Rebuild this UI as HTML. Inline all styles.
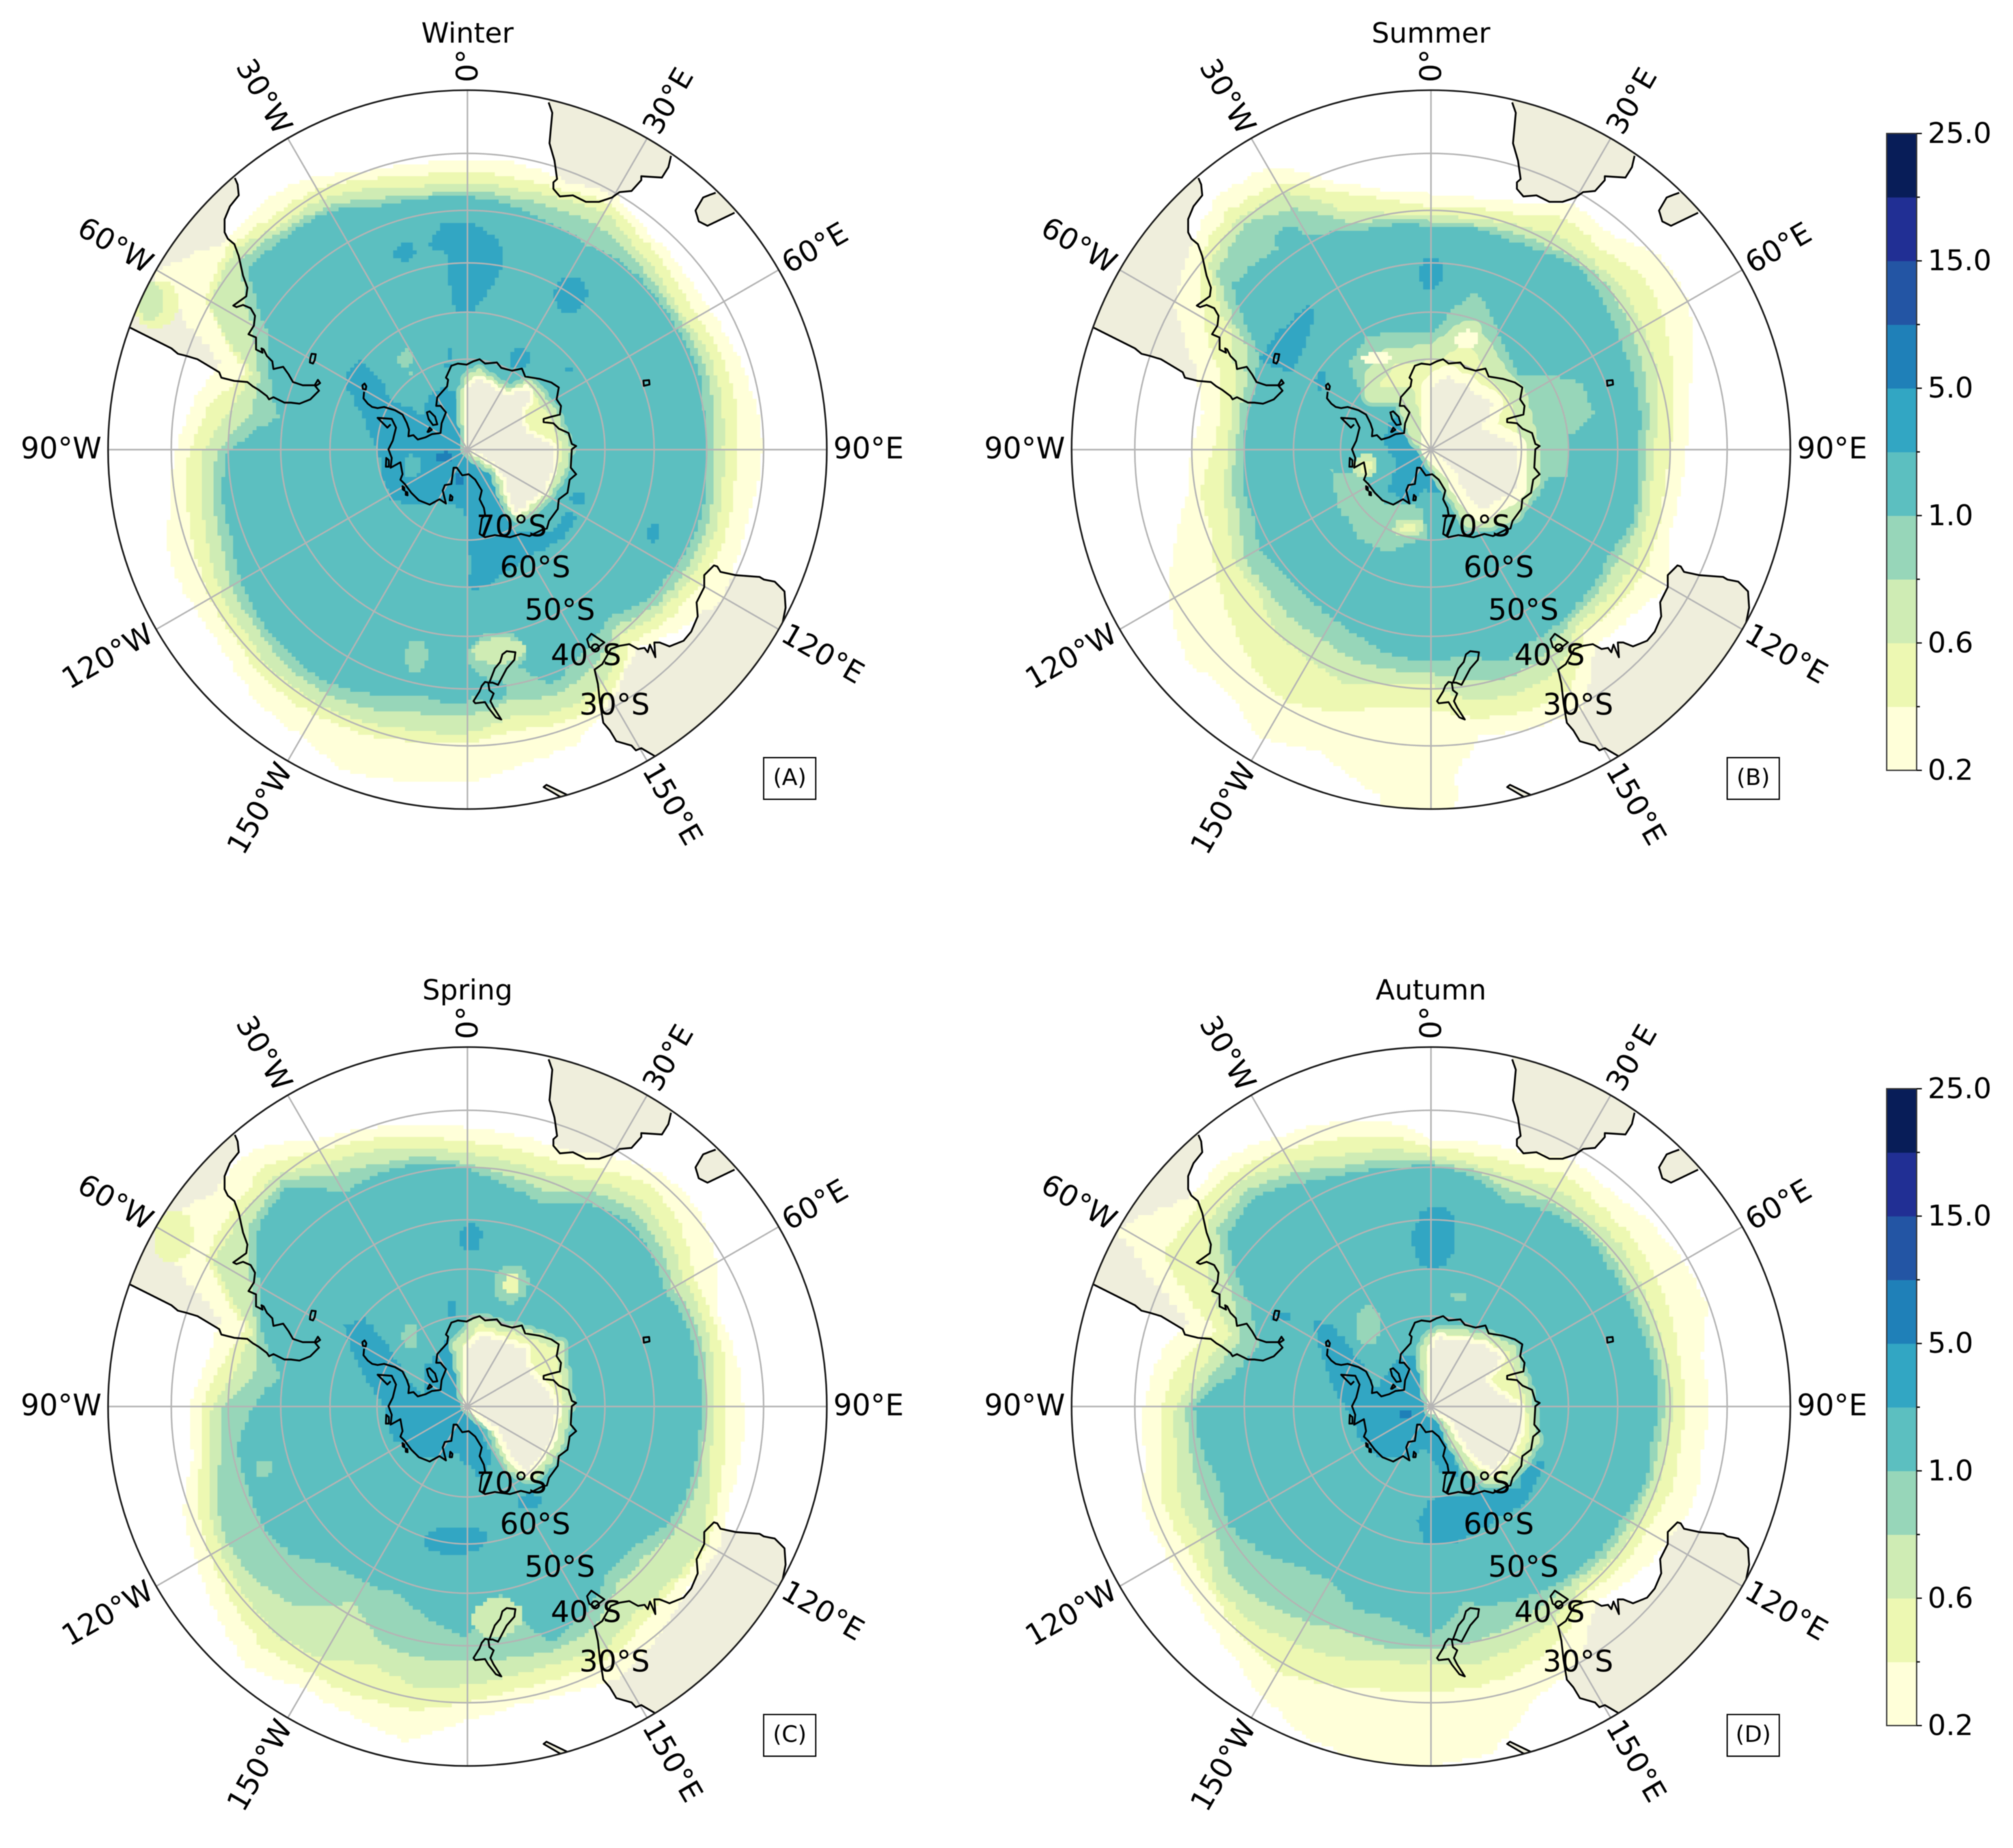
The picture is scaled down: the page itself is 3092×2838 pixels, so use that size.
<!DOCTYPE html>
<html lang="en">
<head>
<meta charset="utf-8">
<title>Seasonal Southern Hemisphere maps</title>
<style>
html,body{margin:0;padding:0;background:#fff;width:3092px;height:2838px;overflow:hidden}
svg{display:block;filter:blur(0.7px)}
text{font-family:"DejaVu Sans","Liberation Sans",sans-serif;fill:#000}
</style>
</head>
<body>
<svg id="figure" xmlns="http://www.w3.org/2000/svg" width="3092" height="2838" viewBox="0 0 3092 2838">
<rect x="0" y="0" width="3092" height="2838" fill="#ffffff"/>
</svg>
<script>
/* Level colours, lowest band to highest band */
const bandColors = ['#ffffd9','#edf8b2','#cfecb4','#97d6b9','#5cbfc0','#32a6c3','#1f80b8','#2355a4','#212f94','#081d58'];
const colorbarLabels = ['0.2','','0.6','','1.0','','5.0','','15.0','','25.0'];
const gridLats = [30,40,50,60,70];
const gridLons = [0,30,60,90,120,150,180,210,240,270,300,330];
const lonLabels = ['0°','30°E','60°E','90°E','120°E','150°E',null,'150°W','120°W','90°W','60°W','30°W'];

/* Latitude (°S) of each band's outer edge, sampled every 10° longitude from 0° eastward */
const winterPale   = [31,31,32,30.5,32.5,33,33,32,31,30,31,31,30,32.7,36,31,27,26,24,23.5,22.5,24.5,25,27,27,26.5,29,30.7,33,36,20,26,25.5,27,30,31];
const winterYellow = [33,33.5,33.5,32,34,35,35.5,34.5,34,34.5,34.5,34,34.5,35.5,37.5,31.5,31,32,30.5,30,29,28.5,28.5,29.5,30,31,32,33,36,41,29,27,28.5,29,31.5,33];
const winterGreen  = [35,35.5,35,34,36,37,37.5,36.5,36.5,37,36.5,36,36.5,37.5,39.5,34,33,34.5,32,32,31,30.5,30.5,31.5,32,33.5,34.5,35.5,40,42,30,28,30.5,31,33,35];
const winterMint   = [36.5,37,37,36.7,37.5,38.5,38.5,38,38,38.5,38,37.5,38,39,41.5,37.6,36,37,35,35,33.5,32.5,32.5,33.5,34,36,36.5,38,44,43.5,38.5,30,31.5,32.5,35,36.5];
const winterTeal   = [37.5,38.5,40,40.5,39.5,39.5,39.7,39,40,40,39.5,39,40,40.7,43.5,41,38,46,37,38,36,34.5,34.5,35,36,38,38,40,49,45.5,42,31.5,32.5,33.5,36.5,37];

const summerPale   = [37,37,36,32,33,29.5,30,33,36,37,37.5,37.5,34,36,37,29,30,31,20,22,26,24,27,26,29,34,38.5,40,41.5,38,30,27,24,25,32,36];
const summerYellow = [39.5,39,38,35,36,34,35,37,38.5,40,40.5,39.5,38.5,39,40,33,33,34,36.5,36,33,31,33,36,38.5,41,41,44,45,43,36,29,27,28,34,37.5];
const summerGreen  = [41,41,40,38.5,38.5,38,39,40,41.5,43,43,42,41,41.5,42,37,36.5,37,41,40,38.5,39.5,40,43,42.5,44.5,45.5,47,47,46,42,31,29,30,37.5,40];
const summerMint   = [42,42,41.5,41,40,40,41.5,42.5,43.5,44.5,44.5,43.5,44,43.5,43.5,41,39.5,41,43,43,43,44,44,44.7,44.5,47,47,48.5,48.5,48,45,33,30.5,33,40,41];
const summerTeal   = [43,42.5,43,42.3,41,42.5,44,44.5,45,46,45.5,44.5,46,45,44.5,44,43,45.5,45.5,45.5,47.5,48.5,49,49,48,49.5,49,50,50,50,48,36.5,37,38.5,41.5,42];

const springPale   = [33,33.5,34,31.5,29,29,31.5,35,34,33.5,33,33,31,31.5,29.5,27.5,28.5,29,27,23,24.7,25.5,23,25.3,27.5,29,33,33,35.5,36,20,24,23.5,28,30,32];
const springYellow = [35.5,36,36.5,34,31.5,33,36,36.5,36,36.5,36,35,33,33.5,33,31,31.5,31.5,30,28,28,28,27,28.5,30,31.5,34.5,35,38,41,29,28,27,30,32,34];
const springGreen  = [37.5,38.5,39,36.5,34.5,36,38,38,38,38.5,38.5,37,34,34.5,35,33,34,34,33,32,34,31,30,31,32,33.5,36,37,41,42,30.5,30,29,32.5,34,36];
const springMint   = [39.5,41,42,38.5,37,38,40.5,39.5,39.5,40,40,39,39,41,41,37,36.5,37,37,37,38,42.5,36,34,33.5,35,38,39,45,43,38,32,30.5,35,36.5,37.5];
const springTeal   = [40.5,43,44.5,41,39,40,42,41,41,41,41,40.5,41,44,44,40,38,49,41.5,44.5,47.5,47,46,42,40.5,41,41,44.5,49.5,44,40,33.5,32,38.5,38,38.5];

const autumnPale   = [35,35,34.5,32,33,32,31,30.5,33.5,33,33.5,32.7,34,35,37,30,27.5,21,20,20,21,24,27,28.5,29,28.5,31,31.5,33,37,20,25.7,25.5,27.5,29,31];
const autumnYellow = [36.5,37,37,35,36,36,36.5,37,37.5,37.5,37.5,37,38,38,39,35,33,32,32,31.5,30,28.5,30,32,32.5,32,34,34.5,37,42,28,28,28,30,32,33.5];
const autumnGreen  = [38,39,39.5,38,38.5,38.5,39.5,40,40,39.5,40,39.5,40,40,41,38.5,37,36,37,36.5,35,34,33,33,35.5,35,36.5,37,41,45,37,31,30,32.5,35,36];
const autumnMint   = [39,40,42,40.5,40.5,41,41.5,41.5,41,41,41.5,41,41.5,41.5,42.5,42,41,40,39.5,39,40,38.5,37,36,38.5,39,39,39,44,47,42,33,32,34.5,37,38];
const autumnTeal   = [39.7,41,44,42.5,41.5,42.5,43,43,42.5,42,43,42,43,43,43.5,44.5,45.5,47.5,41.5,44.5,44.5,47.5,46,43,41,43,41,40.5,47.5,51,46,35,33.5,36.5,38.5,39.5];

/* Closed regions as [longitude, latitude °S] vertices */
const winterDeep = [[302,58.5],[309.6,59],[309,61.5],[308.7,66.3],[303,69.3],[305,73.4],[307,77.3],[323,75.5],[337.5,74.7],[348,77.3],[354,82.7],[0,89.5],[121,87.5],[130,83.5],[143,78.3],[149,73.5],[150,69],[138,65.5],[132,64],[122,64.5],[122,61.8],[132.4,61.3],[143.6,62.5],[164,61.5],[169,60.3],[177.6,59.2],[180,61],[178,64.5],[180,68.7],[179,72.5],[183,76.3],[194,77.7],[205.7,77.4],[214.6,75.4],[227,72.3],[237,70],[252,70.3],[269,70.3],[275.5,69],[287.6,66],[297.7,60.5]];
const winterTopDeep = [[349,46],[354,42],[0,42],[7,44.5],[10.4,47],[10.5,51],[8,55],[2.6,60],[355,60],[354,53.5],[354,48]];
const winterIce = [[356,77.6],[2,74],[9,72.6],[15.4,74],[27,74.6],[36,74.3],[43,70],[56,70.3],[68,69.3],[80.6,69],[90,68],[96,68.2],[110,69.4],[124.5,70],[141,71.5],[143,73.4],[137,78.4],[123,82.3],[0,90]];
const winterCore = [[0,80],[1,76],[9.7,74],[24,75.3],[37.7,75],[43.8,71],[51.6,72.5],[56.6,76],[75,76.5],[83,73.5],[88,70.7],[101,70.5],[119,70.5],[142.6,72.5],[138,76],[126,79.6],[117,83],[105,86.7],[0,90]];

const summerHole = [[321.4,63.5],[330,61.5],[344.4,63],[2,64],[8.4,59],[15,54.8],[22.5,57],[31.3,61.3],[50,65],[58,59.7],[65.6,54.6],[78,54],[85,59.7],[101,59.3],[103,63.6],[114,64],[133,66.3],[151,70.7],[149,79],[135,89],[310,82],[335,78],[320,73],[311,69.3],[316,64]];
const summerPatch = [[258,67.5],[249,73.5],[222,74],[189,77],[182.5,70.5],[203,65.5],[218,65],[240,66.3]];
const summerDeepPole = [[326.5,77.8],[340,80.6],[342,87],[137,87],[152,80.5],[168,79.6],[189,81],[200,77],[229,77],[245,82],[278,79.6],[298,79]];
const summerDeepWest = [[297.7,48.5],[305.7,48.5],[319,49],[320,51.5],[309,55],[299,55.5]];
const summerIce = [[321,69],[337,67.5],[2.4,68.5],[11.3,65],[17.3,62],[30,66],[46,68],[59,67.5],[90,68],[106,66.5],[129,67.5],[149,71.5],[147,79],[135,89],[328,82],[336,76.5],[321.6,74.5],[312,72]];
const summerCore = [[0,76.3],[11.4,73.4],[54,73],[68,77.6],[89,70.7],[113.6,69],[140,72],[140,76.7],[127.7,84.4],[0,90]];

const springDeep = [[303,58],[310,60],[307.6,67.5],[294,75],[284,80],[311.5,77],[343,74.3],[356,77.5],[0,90],[153,83],[155,76.3],[169,74],[191,79],[221,75],[246,72],[274,71],[292,64]];
const springIce = [[351,81],[351,76],[5.6,71],[37,69.4],[57,65.7],[90,68],[110,68],[136.6,68.3],[144,73.6],[123,83],[0,90]];
const springCore = [[0,77.5],[11,74],[44.7,72.3],[63,74.6],[77,72.5],[90,70.3],[112,70],[137,70],[138,75.5],[125,81.3],[100,88],[0,90]];

const autumnDeep = [[306,58],[309,62.3],[304,69.5],[287.6,77.3],[308,77.7],[331,76.3],[344,79],[347,86],[0,90],[153,81.5],[158,73],[172,75.3],[189,81],[201,77.7],[223.5,74.3],[244,72.7],[266,72],[280,68.2],[295.6,63.7]];
const autumnDeepSouth = [[187,64.7],[181,69.7],[151,68.2],[131.7,63.7],[123,65.6],[114,62],[123.5,61.5],[138,60.4],[156.5,61],[169,60],[181.6,60]];
const autumnIce = [[352,77.5],[359,75],[7,73.7],[36,70.4],[54,68.4],[86.6,68.3],[108,66],[132,66.3],[142,69.3],[147.5,75],[128,86],[0,90]];
const autumnCore = [[0,77.5],[6,74.7],[40,72],[56,71],[65,76.6],[83.5,73.6],[90,70],[111,69.3],[136,69.8],[139,76],[120,85],[0,90]];

/* Small patches: longitude, latitude °S, east-west extent, north-south extent, band index */
const winterPatches = [[295,22.5,33,38,1],[295,21.5,18,30,2],[342.4,46,16,14,5],[33.7,50,25,28,5],[29.6,67,16,16,5],[114,63.5,12,8,5],[114,46.5,9,15,5],[349,68.5,4,10,5],[346,71,6,5,5],[52,62,6,4,5],[326,65.7,11,14,3],[323.7,69,4,5,3],[172,46,45,35,3],[194,45,18,25,3],[171,46.7,40,20,2],[174.7,39.5,25,18,4],[253,77,13,18,4],[251.6,84.6,11,9,6],[197,83,7,8,6]];
const summerPatches = [[182,22,60,50,0],[0,52,19,24,5],[326,37.5,25,20,4],[302,61.5,8,14,5],[256,75,18,18,2],[196,72,24,14,2],[256,75,10,10,1],[196,72,12,7,1]];
const summerIcePatches = [[18,64.5,18,14,0],[329,66.5,22,10,0]];
const springPatches = [[300,23,30,40,1],[1.3,53.5,16,22,5],[185,60.7,50,22,5],[147,65,20,12,5],[351,68,8,14,5],[321,70,12,20,3],[19.7,61.5,26,30,3],[19.7,61.5,12,15,1],[253,45,14,14,3],[172,45,38,30,2]];
const autumnPatches = [[1,53.5,33,49,5],[301,52.5,16,8,5],[322,67.5,20,30,3],[14.5,65,12,7,3],[254,84,9,7,6]];

/* Basemap geometry in stereographic map units (three units per pixel), each feature with its own origin */
const antarcticaOrigin = [-654,-631.5];
const antarcticaCoast = [[178,365],[175,395],[195,420],[215,435],[240,440],[270,435],[320,450],[355,470],[375,510],[385,540],[382,570],[405,565],[425,585],[460,575],[490,560],[530,555],[535,510],[555,460],[530,430],[510,430],[515,390],[560,340],[565,310],[555,300],[580,245],[610,235],[650,240],[680,225],[710,215],[735,235],[790,230],[810,255],[860,268],[905,258],[920,295],[985,305],[1040,322],[1075,345],[1065,400],[1085,430],[1080,470],[1040,480],[1005,490],[1005,505],[1050,510],[1075,535],[1120,555],[1135,605],[1155,615],[1135,630],[1130,715],[1155,745],[1125,770],[1115,830],[1075,860],[1070,905],[1030,960],[1020,995],[1000,1000],[940,1030],[900,1020],[850,1035],[780,1025],[735,1035],[710,1020],[720,950],[735,930],[730,900],[710,860],[720,820],[690,770],[660,745],[630,750],[605,715],[590,715],[580,790],[550,795],[540,820],[555,880],[525,860],[480,885],[430,865],[395,830],[365,790],[345,770],[355,745],[345,690],[300,715],[305,670],[290,630],[310,590],[325,530],[305,490],[240,485],[265,510],[285,530],[300,515]];
const antarcticaIslands = [[[170,335],[180,327],[188,340],[185,355],[172,352]],[[467,460],[480,455],[505,480],[515,515],[495,518],[475,490]],[[470,550],[480,530],[490,540],[475,550]],[[280,670],[292,680],[292,710],[278,710]],[[355,800],[362,805],[364,820],[356,815]],[[370,825],[377,828],[378,842],[370,840]],[[575,840],[585,850],[583,865],[572,865]]];
const southAmericaOrigin = [-1584,-1291.5];
const southAmericaCoast = [[512,40],[525,70],[530,120],[490,170],[465,230],[465,290],[480,320],[510,345],[530,400],[550,490],[570,545],[565,585],[530,610],[505,628],[520,635],[550,625],[585,640],[605,675],[600,720],[575,760],[610,775],[610,830],[640,845],[635,825],[645,830],[660,860],[685,885],[690,920],[735,910],[760,945],[780,980],[825,995],[890,995],[905,985],[895,970],[880,995],[900,1020],[860,1060],[810,1080],[770,1075],[740,1075],[690,1050],[670,1060],[660,1045],[620,1015],[595,1000],[570,980],[510,975],[450,960],[440,935],[340,875],[290,860],[250,850],[220,825],[30,730]];
const southAmericaMargin = [[-200,500],[300,-100]];
const southGeorgiaIsland = [[860,870],[866,850],[885,852],[880,880],[872,895],[858,890]];
const africaOrigin = [306,-1651.5];
const africaCoast = [[68,52],[85,100],[72,240],[95,320],[107,405],[90,420],[90,450],[120,485],[180,480],[240,510],[300,510],[360,490],[395,465],[450,460],[495,410],[495,392],[590,398],[620,350],[632,298]];
const africaMargin = [[700,200],[100,-100]];
const madagascarCoast = [[838,468],[810,478],[780,490],[745,550],[760,600],[800,620],[925,560]];
const madagascarMargin = [[960,480]];
const australiaOrigin = [486,478.5];
const australiaCoast = [[380,935],[315,897],[290,907],[270,885],[200,865],[170,815],[140,780],[125,690],[115,600],[100,535],[135,510],[175,440],[215,425],[260,418],[300,440],[330,435],[345,455],[355,420],[380,478],[375,410],[400,410],[445,428],[510,402],[545,360],[575,290],[570,225],[605,155],[605,100],[650,55],[665,60],[680,85],[750,100],[860,108],[880,120],[930,130],[975,175],[980,250],[965,325]];
const australiaMargin = [[1100,500],[800,1100]];
const tasmaniaCoast = [[65,395],[85,370],[145,410],[100,445],[75,430]];
const newZealandOrigin = [-54,838.5];
const newZealandNorth = [[215,105],[235,90],[275,95],[270,130],[235,170],[195,245],[170,235],[155,235],[180,170],[205,140]];
const newZealandSouth = [[135,232],[150,235],[155,270],[175,285],[160,320],[175,350],[210,405],[185,395],[150,350],[135,325],[90,330],[82,320],[110,275],[120,250]];
const subantarcticIsland = [[405,716],[418,706],[514,752],[506,764],[480,760]];
const kerguelenOrigin = [825,-306];
const kerguelenIsland = [[-14,-12],[12,-14],[14,6],[-12,12]];

const svg = document.getElementById('figure');
const NS = 'http://www.w3.org/2000/svg';
const radius = 552;
const projectionScale = 788;
const stepSize = 6;
const landColor = '#efeedc';
const gridColor = '#b4b4b4';

function node(tag, parent){
  const e = document.createElementNS(NS, tag);
  parent.appendChild(e);
  return e;
}
function radiusOfLat(lat){ return projectionScale * Math.tan((90 - lat) / 2 * Math.PI / 180); }
function mapX(lon, lat){ return radiusOfLat(lat) * Math.sin(lon * Math.PI / 180); }
function mapY(lon, lat){ return -radiusOfLat(lat) * Math.cos(lon * Math.PI / 180); }
function unitX(v, origin){ return (v + origin[0]) / 3; }
function unitY(v, origin){ return (v + origin[1]) / 3; }
function steppedPath(points){
  let d = '';
  let px = null, py = null;
  points.forEach(function(p){
    const x = Math.round(p[0] / stepSize) * stepSize;
    const y = Math.round(p[1] / stepSize) * stepSize;
    if (px === null) { d += 'M' + x + ' ' + y; }
    else if (x !== px || y !== py) {
      if (x !== px && y !== py) d += 'L' + x + ' ' + py;
      d += 'L' + x + ' ' + y;
    }
    px = x; py = y;
  });
  return d + 'Z';
}
function contourPoints(lats){
  const pts = [];
  for (let deg = 0; deg < 360; deg++) {
    const i = Math.floor(deg / 10);
    const t = (deg % 10) / 10;
    const lat = lats[i] + (lats[(i + 1) % lats.length] - lats[i]) * t;
    pts.push([mapX(deg, lat), mapY(deg, lat)]);
  }
  return pts;
}
function regionPoints(vertices){
  const pts = [];
  vertices.forEach(function(v, i){
    const w = vertices[(i + 1) % vertices.length];
    const ax = mapX(v[0], v[1]), ay = mapY(v[0], v[1]);
    const bx = mapX(w[0], w[1]), by = mapY(w[0], w[1]);
    for (let k = 0; k < 10; k++) pts.push([ax + (bx - ax) * k / 10, ay + (by - ay) * k / 10]);
  });
  return pts;
}
function patchPoints(patch){
  const cx = mapX(patch[0], patch[1]), cy = mapY(patch[0], patch[1]);
  const pts = [];
  for (let a = 0; a < 360; a += 10) {
    pts.push([cx + patch[2] * Math.cos(a * Math.PI / 180), cy + patch[3] * Math.sin(a * Math.PI / 180)]);
  }
  return pts;
}
function unitPath(points, origin, closed){
  let d = '';
  points.forEach(function(p, i){
    d += (i ? 'L' : 'M') + unitX(p[0], origin).toFixed(1) + ' ' + unitY(p[1], origin).toFixed(1);
  });
  return d + (closed ? 'Z' : '');
}

const panelLayout = [
  {season:'Winter', tag:'(A)', x:718, y:690.5, bands:[winterPale,winterYellow,winterGreen,winterMint,winterTeal], regions:[[winterDeep,5],[winterTopDeep,5]], patches:winterPatches, ice:winterIce, core:winterCore, icePatches:[], rim:10, mintStroke:22, greenStroke:10},
  {season:'Summer', tag:'(B)', x:2198, y:690.5, bands:[summerPale,summerYellow,summerGreen,summerMint,summerTeal], regions:[[summerHole,3],[summerPatch,3],[summerDeepPole,5],[summerDeepWest,5]], patches:summerPatches, ice:summerIce, core:summerCore, icePatches:summerIcePatches, rim:30, mintStroke:36, greenStroke:24},
  {season:'Spring', tag:'(C)', x:718, y:2160, bands:[springPale,springYellow,springGreen,springMint,springTeal], regions:[[springDeep,5]], patches:springPatches, ice:springIce, core:springCore, icePatches:[], rim:14, mintStroke:22, greenStroke:10},
  {season:'Autumn', tag:'(D)', x:2198, y:2160, bands:[autumnPale,autumnYellow,autumnGreen,autumnMint,autumnTeal], regions:[[autumnDeep,5],[autumnDeepSouth,5]], patches:autumnPatches, ice:autumnIce, core:autumnCore, icePatches:[], rim:12, mintStroke:22, greenStroke:10}
];

const defs = node('defs', svg);
const clip = node('clipPath', defs);
clip.setAttribute('id', 'disc');
const clipCircle = node('circle', clip);
clipCircle.setAttribute('r', radius);

const landFeatures = [
  [southAmericaCoast.concat(southAmericaMargin), southAmericaOrigin],
  [africaCoast.concat(africaMargin), africaOrigin],
  [madagascarCoast.concat(madagascarMargin), africaOrigin],
  [australiaCoast.concat(australiaMargin), australiaOrigin],
  [tasmaniaCoast, australiaOrigin],
  [newZealandNorth, newZealandOrigin],
  [newZealandSouth, newZealandOrigin],
  [subantarcticIsland, newZealandOrigin]
];
const coastLines = [
  [antarcticaCoast, antarcticaOrigin, false],
  [southAmericaCoast, southAmericaOrigin, false],
  [southGeorgiaIsland, southAmericaOrigin, true],
  [africaCoast, africaOrigin, false],
  [madagascarCoast, africaOrigin, false],
  [australiaCoast, australiaOrigin, false],
  [tasmaniaCoast, australiaOrigin, true],
  [newZealandNorth, newZealandOrigin, true],
  [newZealandSouth, newZealandOrigin, true],
  [subantarcticIsland, newZealandOrigin, true],
  [kerguelenIsland, kerguelenOrigin, true]
].concat(antarcticaIslands.map(function(isle){ return [isle, antarcticaOrigin, true]; }));

function fillPath(parent, d, color){
  const p = node('path', parent);
  p.setAttribute('d', d);
  p.setAttribute('fill', color);
  return p;
}

panelLayout.forEach(function(panel){
  const key = panel.season.toLowerCase();
  const g = node('g', svg);
  
  
  g.setAttribute('transform', 'translate(' + panel.x + ' ' + panel.y + ')');

  const map = node('g', g);
  
  
  map.setAttribute('clip-path', 'url(#disc)');

  const land = node('g', map);
  
  
  landFeatures.forEach(function(f){
    const p = fillPath(land, unitPath(f[0], f[1], true), landColor);
    
    
  });

  const field = node('g', map);
  
  
  panel.bands.forEach(function(lats, i){
    const p = fillPath(field, steppedPath(contourPoints(lats)), bandColors[i]);
    
    
  });
  panel.regions.forEach(function(r){
    const p = fillPath(field, steppedPath(regionPoints(r[0])), bandColors[r[1]]);
    
    
  });
  panel.patches.forEach(function(s){
    const p = fillPath(field, steppedPath(patchPoints(s)), bandColors[s[4]]);
    
    
  });

  const icePath = steppedPath(regionPoints(panel.ice));
  const iceOuter = fillPath(field, icePath, bandColors[3]);
  iceOuter.setAttribute('stroke', bandColors[3]);
  iceOuter.setAttribute('stroke-width', panel.mintStroke);
  iceOuter.setAttribute('stroke-linejoin', 'round');
  
  
  const iceMid = fillPath(field, icePath, bandColors[1]);
  iceMid.setAttribute('stroke', bandColors[2]);
  iceMid.setAttribute('stroke-width', panel.greenStroke);
  iceMid.setAttribute('stroke-linejoin', 'round');
  
  
  panel.icePatches.forEach(function(s){
    const p = fillPath(field, steppedPath(patchPoints(s)), bandColors[s[4]]);
    
    
  });
  const core = fillPath(field, steppedPath(regionPoints(panel.core)), landColor);
  core.setAttribute('stroke', bandColors[0]);
  core.setAttribute('stroke-width', panel.rim);
  core.setAttribute('stroke-linejoin', 'round');
  core.setAttribute('paint-order', 'stroke');
  
  

  const grid = node('g', map);
  
  
  grid.setAttribute('stroke', gridColor);
  grid.setAttribute('stroke-width', 2.4);
  grid.setAttribute('fill', 'none');
  gridLats.forEach(function(lat){
    const c = node('circle', grid);
    c.setAttribute('r', radiusOfLat(lat));
    
    
  });
  gridLons.forEach(function(lon){
    const l = node('line', grid);
    l.setAttribute('x1', 0);
    l.setAttribute('y1', 0);
    l.setAttribute('x2', radius * Math.sin(lon * Math.PI / 180));
    l.setAttribute('y2', -radius * Math.cos(lon * Math.PI / 180));
    
    
  });

  const coasts = node('g', map);
  
  
  coasts.setAttribute('fill', 'none');
  coasts.setAttribute('stroke', '#000');
  coasts.setAttribute('stroke-width', 2.8);
  coasts.setAttribute('stroke-linejoin', 'round');
  coastLines.forEach(function(c){
    const p = node('path', coasts);
    p.setAttribute('d', unitPath(c[0], c[1], c[2]));
    
    
  });

  const frame = node('circle', g);
  frame.setAttribute('r', radius);
  frame.setAttribute('fill', 'none');
  frame.setAttribute('stroke', '#1a1a1a');
  frame.setAttribute('stroke-width', 2.6);
  
  

  const title = node('text', g);
  title.textContent = panel.season;
  title.setAttribute('x', 0);
  title.setAttribute('y', -639);
  title.setAttribute('text-anchor', 'middle');
  title.setAttribute('dominant-baseline', 'central');
  title.setAttribute('font-size', 43);
  
  

  gridLons.forEach(function(lon, i){
    if (lonLabels[i] === null) return;
    const t = node('text', g);
    t.textContent = lonLabels[i];
    t.setAttribute('text-anchor', 'middle');
    t.setAttribute('dominant-baseline', 'central');
    t.setAttribute('font-size', 45);
    
    
    const r = 562 + t.getComputedTextLength() / 2;
    const x = r * Math.sin(lon * Math.PI / 180);
    const y = -r * Math.cos(lon * Math.PI / 180) - 2;
    const angle = lon < 180 ? lon - 90 : lon - 270;
    t.setAttribute('x', x);
    t.setAttribute('y', y);
    t.setAttribute('transform', 'rotate(' + angle + ' ' + x + ' ' + y + ')');
  });

  gridLats.forEach(function(lat){
    const t = node('text', g);
    t.textContent = lat + '°S';
    const r = radiusOfLat(lat) - 3;
    t.setAttribute('x', r * Math.sin(150 * Math.PI / 180));
    t.setAttribute('y', -r * Math.cos(150 * Math.PI / 180));
    t.setAttribute('text-anchor', 'middle');
    t.setAttribute('dominant-baseline', 'central');
    t.setAttribute('font-size', 45);
    
    
  });

  const box = node('rect', g);
  box.setAttribute('x', 455);
  box.setAttribute('y', 473);
  box.setAttribute('width', 80);
  box.setAttribute('height', 64);
  box.setAttribute('fill', '#fff');
  box.setAttribute('stroke', '#000');
  box.setAttribute('stroke-width', 2);
  
  
  const tag = node('text', g);
  tag.textContent = panel.tag;
  tag.setAttribute('x', 495);
  tag.setAttribute('y', 504);
  tag.setAttribute('text-anchor', 'middle');
  tag.setAttribute('dominant-baseline', 'central');
  tag.setAttribute('font-size', 35);
  
  
});

const colorbarTops = [205, 1672];
const barHeight = 978;
const barLeft = 2898;
const barWidth = 46;
colorbarTops.forEach(function(top){
  const g = node('g', svg);
  
  
  const seg = barHeight / bandColors.length;
  bandColors.forEach(function(color, i){
    const r = node('rect', g);
    r.setAttribute('x', barLeft);
    r.setAttribute('y', top + barHeight - seg * (i + 1));
    r.setAttribute('width', barWidth);
    r.setAttribute('height', seg + 0.5);
    r.setAttribute('fill', color);
    
    
  });
  const outline = node('rect', g);
  outline.setAttribute('x', barLeft);
  outline.setAttribute('y', top);
  outline.setAttribute('width', barWidth);
  outline.setAttribute('height', barHeight);
  outline.setAttribute('fill', 'none');
  outline.setAttribute('stroke', '#333');
  outline.setAttribute('stroke-width', 2);
  
  
  colorbarLabels.forEach(function(label, i){
    const y = top + barHeight - seg * i;
    const tick = node('line', g);
    tick.setAttribute('x1', barLeft + barWidth);
    tick.setAttribute('x2', barLeft + barWidth + (label ? 8 : 5));
    tick.setAttribute('y1', y);
    tick.setAttribute('y2', y);
    tick.setAttribute('stroke', '#000');
    tick.setAttribute('stroke-width', 2);
    
    
    if (label) {
      const t = node('text', g);
      t.textContent = label;
      t.setAttribute('x', barLeft + barWidth + 17);
      t.setAttribute('y', y);
      t.setAttribute('dominant-baseline', 'central');
      t.setAttribute('font-size', 44);
      
      
    }
  });
});
</script>
</body>
</html>
